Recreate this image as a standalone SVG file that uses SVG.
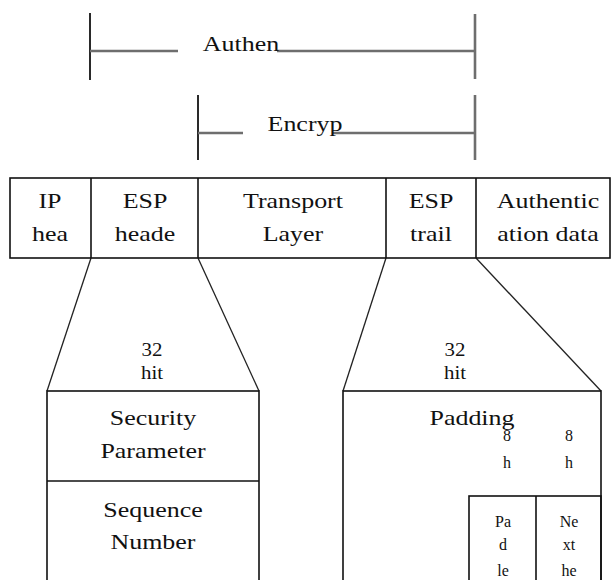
<svg xmlns="http://www.w3.org/2000/svg" width="612" height="580" viewBox="0 0 612 580">
<style>
.t{font-family:"Liberation Serif","Times New Roman",serif;font-size:22px;fill:#111;text-anchor:middle}
.m{font-family:"Liberation Serif","Times New Roman",serif;font-size:19px;fill:#111;text-anchor:middle}
.s{font-family:"Liberation Serif","Times New Roman",serif;font-size:16px;fill:#111;text-anchor:middle}
.box{fill:none;stroke:#111;stroke-width:1.6}
.ln{stroke:#222;stroke-width:1.3;fill:none}
.gr{stroke:#6e6e6e;stroke-width:2.6;fill:none}
.dk{stroke:#2a2a2a;stroke-width:2;fill:none}
</style>
<rect width="612" height="580" fill="#ffffff"/>

<g id="connectors">
  <line class="dk" x1="90" y1="13" x2="90" y2="80"/>
  <line class="gr" x1="90" y1="51" x2="178" y2="51"/>
  <line class="gr" x1="277" y1="51" x2="475" y2="51"/>
  <line class="gr" x1="475" y1="14" x2="475" y2="79"/>
  <line class="dk" x1="198" y1="95" x2="198" y2="160"/>
  <line class="gr" x1="198" y1="133" x2="243" y2="133"/>
  <line class="gr" x1="333" y1="133" x2="475" y2="133"/>
  <line class="gr" x1="475" y1="95" x2="475" y2="160"/>
  <line class="ln" x1="91" y1="258" x2="47" y2="391"/>
  <line class="ln" x1="198" y1="258" x2="259" y2="391"/>
  <line class="ln" x1="386" y1="258" x2="343" y2="391"/>
  <line class="ln" x1="476" y1="258" x2="601" y2="391"/>
</g>

<g id="label-authen">
  <text class="t" transform="matrix(1.18 0 0 1 241 51)">Authen</text>
</g>
<g id="label-encryp">
  <text class="t" transform="matrix(1.18 0 0 1 305 131)">Encryp</text>
</g>

<g id="packet">
  <rect class="box" x="10" y="178" width="600" height="80"/>
  <line class="box" x1="91" y1="178" x2="91" y2="258"/>
  <line class="box" x1="198" y1="178" x2="198" y2="258"/>
  <line class="box" x1="386" y1="178" x2="386" y2="258"/>
  <line class="box" x1="476" y1="178" x2="476" y2="258"/>
</g>
<g id="ip-header">
  <text class="t" transform="matrix(1.18 0 0 1 50 208)">IP</text>
  <text class="t" transform="matrix(1.18 0 0 1 50 241)">hea</text>
</g>
<g id="esp-header">
  <text class="t" transform="matrix(1.18 0 0 1 145 208)">ESP</text>
  <text class="t" transform="matrix(1.18 0 0 1 145 241)">heade</text>
</g>
<g id="transport-layer">
  <text class="t" transform="matrix(1.18 0 0 1 293 208)">Transport</text>
  <text class="t" transform="matrix(1.18 0 0 1 293 241)">Layer</text>
</g>
<g id="esp-trailer">
  <text class="t" transform="matrix(1.18 0 0 1 431 208)">ESP</text>
  <text class="t" transform="matrix(1.18 0 0 1 431 241)">trail</text>
</g>
<g id="auth-data">
  <text class="t" transform="matrix(1.18 0 0 1 548 208)">Authentic</text>
  <text class="t" transform="matrix(1.18 0 0 1 548 241)">ation data</text>
</g>

<g id="header-detail">
  <text class="m" transform="matrix(1.1 0 0 1 152 356)">32</text>
  <text class="m" transform="matrix(1.1 0 0 1 152 379)">hit</text>
  <rect class="box" x="47" y="391" width="212" height="200"/>
  <line class="box" x1="47" y1="481" x2="259" y2="481"/>
  <text class="t" transform="matrix(1.18 0 0 1 153 425)">Security</text>
  <text class="t" transform="matrix(1.18 0 0 1 153 458)">Parameter</text>
  <text class="t" transform="matrix(1.18 0 0 1 153 517)">Sequence</text>
  <text class="t" transform="matrix(1.18 0 0 1 153 549)">Number</text>
</g>

<g id="trailer-detail">
  <text class="m" transform="matrix(1.1 0 0 1 455 356)">32</text>
  <text class="m" transform="matrix(1.1 0 0 1 455 379)">hit</text>
  <rect class="box" x="343" y="391" width="258" height="200"/>
  <text class="t" transform="matrix(1.18 0 0 1 472 425)">Padding</text>
  <text class="s" x="507" y="441">8</text>
  <text class="s" x="507" y="468">h</text>
  <text class="s" x="569" y="441">8</text>
  <text class="s" x="569" y="468">h</text>
  <rect class="box" x="469" y="496" width="132" height="95"/>
  <line class="box" x1="536" y1="496" x2="536" y2="591"/>
  <text class="s" x="503" y="527">Pa</text>
  <text class="s" x="503" y="550">d</text>
  <text class="s" x="503" y="576">le</text>
  <text class="s" x="569" y="527">Ne</text>
  <text class="s" x="569" y="550">xt</text>
  <text class="s" x="569" y="576">he</text>
</g>
</svg>
